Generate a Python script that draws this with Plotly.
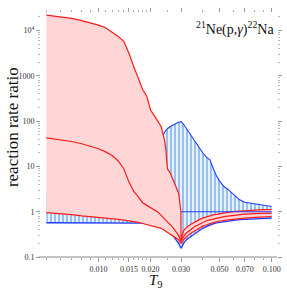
import plotly.graph_objects as go

# ---- data ----
T9 = [0.005, 0.006, 0.007, 0.008, 0.009, 0.010, 0.011, 0.012, 0.013, 0.014,
      0.015, 0.016, 0.017, 0.018, 0.019, 0.020, 0.021, 0.022, 0.023, 0.024,
      0.0245, 0.025, 0.026, 0.027, 0.028, 0.029, 0.0299, 0.030, 0.031, 0.032,
      0.034, 0.036, 0.038, 0.040, 0.042, 0.044, 0.046, 0.048, 0.050, 0.053,
      0.056, 0.060, 0.065, 0.070, 0.080, 0.090, 0.100]

red_high = [21900, 20000, 18600, 16600, 14800, 13200, 11500, 9300, 7400, 5750,
            3160, 1580, 830, 500, 355, 174, 132, 100, 76, 40,
            24, 8.9, 7.1, 5.0, 3.6, 2.6, 1.05, 0.23, 0.38, 0.44,
            0.52, 0.60, 0.66, 0.72, 0.78, 0.81, 0.85, 0.88, 0.90, 0.93,
            0.97, 1.00, 1.03, 1.05, 1.08, 1.11, 1.12]

red_med = [42.7, 38.9, 35.5, 31.6, 28.2, 24.5, 20.9, 17.4, 13.2, 8.9,
           4.5, 2.8, 2.1, 1.58, 1.38, 1.23, 1.10, 0.98, 0.83, 0.69,
           0.63, 0.59, 0.51, 0.44, 0.37, 0.30, 0.23, 0.22, 0.28, 0.33,
           0.40, 0.47, 0.52, 0.58, 0.63, 0.66, 0.69, 0.72, 0.74, 0.78,
           0.80, 0.83, 0.86, 0.88, 0.91, 0.92, 0.93]

red_low = [0.95, 0.91, 0.86, 0.81, 0.78, 0.75, 0.72, 0.70, 0.68, 0.65,
           0.63, 0.60, 0.58, 0.55, 0.52, 0.50, 0.48, 0.46, 0.43, 0.39,
           0.37, 0.355, 0.32, 0.295, 0.27, 0.24, 0.204, 0.20, 0.24, 0.275,
           0.33, 0.38, 0.43, 0.48, 0.51, 0.55, 0.575, 0.60, 0.62, 0.64,
           0.66, 0.68, 0.71, 0.72, 0.75, 0.77, 0.78]

blue_high = [2.5, 2.5, 2.6, 2.6, 2.7, 2.8, 2.9, 3.0, 3.2, 3.4,
             3.7, 4.2, 5.0, 6.3, 8.0, 11, 16, 25, 40, 56,
             63, 68, 76, 83, 89, 94, 97, 98, 85, 71,
             51, 35, 26, 20, 16, 14, 9.0, 6.2, 4.8, 3.6,
             3.1, 2.4, 1.85, 1.62, 1.48, 1.38, 1.30]

blue_low = [0.57, 0.57, 0.57, 0.57, 0.57, 0.57, 0.575, 0.575, 0.58, 0.58,
            0.58, 0.58, 0.58, 0.57, 0.56, 0.55, 0.54, 0.51, 0.49, 0.46,
            0.44, 0.42, 0.36, 0.30, 0.25, 0.20, 0.16, 0.155, 0.20, 0.235,
            0.28, 0.33, 0.38, 0.43, 0.47, 0.51, 0.54, 0.565, 0.58, 0.61,
            0.63, 0.65, 0.67, 0.68, 0.70, 0.71, 0.72]

unity_T9 = [0.030, 0.100]
unity_val = [1.0, 1.0]

x_tickvals = [0.010, 0.015, 0.020, 0.030, 0.050, 0.070, 0.100]
x_ticktext = ["0.010", "0.015", "0.020", "0.030", "0.050", "0.070", "0.100"]
x_minor = [0.005, 0.006, 0.007, 0.008, 0.009, 0.011, 0.012, 0.013, 0.014,
           0.016, 0.017, 0.018, 0.019, 0.025, 0.040, 0.060, 0.080, 0.090]
y_tickvals = [0.1, 1, 10, 100, 1000, 10000]
y_ticktext = ["0.1", "1", "10", "100", "1000", "10<sup>4</sup>"]
y_minor_digits = [2, 3, 4, 5, 6, 7, 8, 9]
y_decades = [0.1, 1, 10, 100, 1000, 10000]
y_minor = [d * m for d in y_decades for m in y_minor_digits]

# ---- style ----
RED = "#ff1a1a"
PINK = "#ffd6d6"
BLUE = "#1f3dff"
SERIF = "Liberation Serif"

fig = go.Figure()

# blue band (hatched with vertical lines)
fig.add_trace(go.Scatter(x=T9, y=blue_low, mode="lines",
                         line=dict(width=0), hoverinfo="skip", showlegend=False))
fig.add_trace(go.Scatter(x=T9, y=blue_high, mode="lines", fill="tonexty",
                         fillcolor="#eef5fd",
                         fillpattern=dict(shape="|", size=4, solidity=0.45,
                                          fgcolor="#3a86e6", bgcolor="#e6f1fc"),
                         line=dict(width=0), hoverinfo="skip", showlegend=False))
# blue boundary lines
fig.add_trace(go.Scatter(x=T9, y=blue_low, mode="lines",
                         line=dict(color=BLUE, width=1.3), showlegend=False))
fig.add_trace(go.Scatter(x=T9, y=blue_high, mode="lines",
                         line=dict(color=BLUE, width=1.1), showlegend=False))

# red band (opaque pink)
fig.add_trace(go.Scatter(x=T9, y=red_low, mode="lines",
                         line=dict(width=0), hoverinfo="skip", showlegend=False))
fig.add_trace(go.Scatter(x=T9, y=red_high, mode="lines", fill="tonexty",
                         fillcolor=PINK, line=dict(width=0),
                         hoverinfo="skip", showlegend=False))
# red lines
for arr in (red_low, red_med, red_high):
    fig.add_trace(go.Scatter(x=T9, y=arr, mode="lines",
                             line=dict(color=RED, width=1.2), showlegend=False))

# unity reference line
fig.add_trace(go.Scatter(x=unity_T9, y=unity_val, mode="lines",
                         line=dict(color=BLUE, width=1.1), showlegend=False))

tickfont = dict(family=SERIF, size=8, color="#333333")
fig.update_xaxes(type="log", range=[-2.332, -0.969],
                 tickvals=x_tickvals, ticktext=x_ticktext,
                 ticks="outside", ticklen=4, tickcolor="#999999", tickwidth=1,
                 mirror="ticks", showline=False, showgrid=False, zeroline=False,
                 tickfont=tickfont, ticklabeloverflow="allow",
                 minor=dict(tickvals=x_minor, ticks="outside", ticklen=2,
                            tickcolor="#aaaaaa", showgrid=False))
fig.update_yaxes(type="log", range=[-1, 4.387],
                 tickvals=y_tickvals, ticktext=y_ticktext,
                 ticks="outside", ticklen=4, tickcolor="#999999", tickwidth=1,
                 mirror="ticks", showline=False, showgrid=False, zeroline=False,
                 tickfont=tickfont,
                 minor=dict(tickvals=y_minor, ticks="outside", ticklen=2,
                            tickcolor="#bbbbbb", showgrid=False))

fig.add_shape(type="line", xref="paper", yref="paper", x0=-0.01, x1=1, y0=0, y1=0,
              line=dict(color="#888888", width=1))

fig.add_annotation(text="<sup>21</sup>Ne(p,<i>γ</i>)<sup>22</sup>Na",
                   xref="paper", yref="paper", x=0.995, y=0.982,
                   xanchor="right", yanchor="top", showarrow=False,
                   font=dict(family=SERIF, size=14, color="#111111"))
fig.add_annotation(text="reaction rate ratio", xref="paper", yref="paper",
                   x=-0.118, y=0.533, xanchor="center", yanchor="middle",
                   textangle=-90, showarrow=False,
                   font=dict(family=SERIF, size=17, color="#111111"))
fig.add_annotation(text="<i>T</i><sub>9</sub>", xref="paper", yref="paper",
                   x=0.4875, y=-0.097, xanchor="center", yanchor="middle",
                   showarrow=False,
                   font=dict(family=SERIF, size=15, color="#111111"))

fig.update_layout(width=287, height=289,
                  margin=dict(l=41, r=6, t=13, b=32),
                  paper_bgcolor="white", plot_bgcolor="white",
                  showlegend=False)

fig.write_html("out.html",
               config={"displayModeBar": False},
               post_script="document.body.style.margin='0';"
                           "document.body.style.overflow='hidden';")
